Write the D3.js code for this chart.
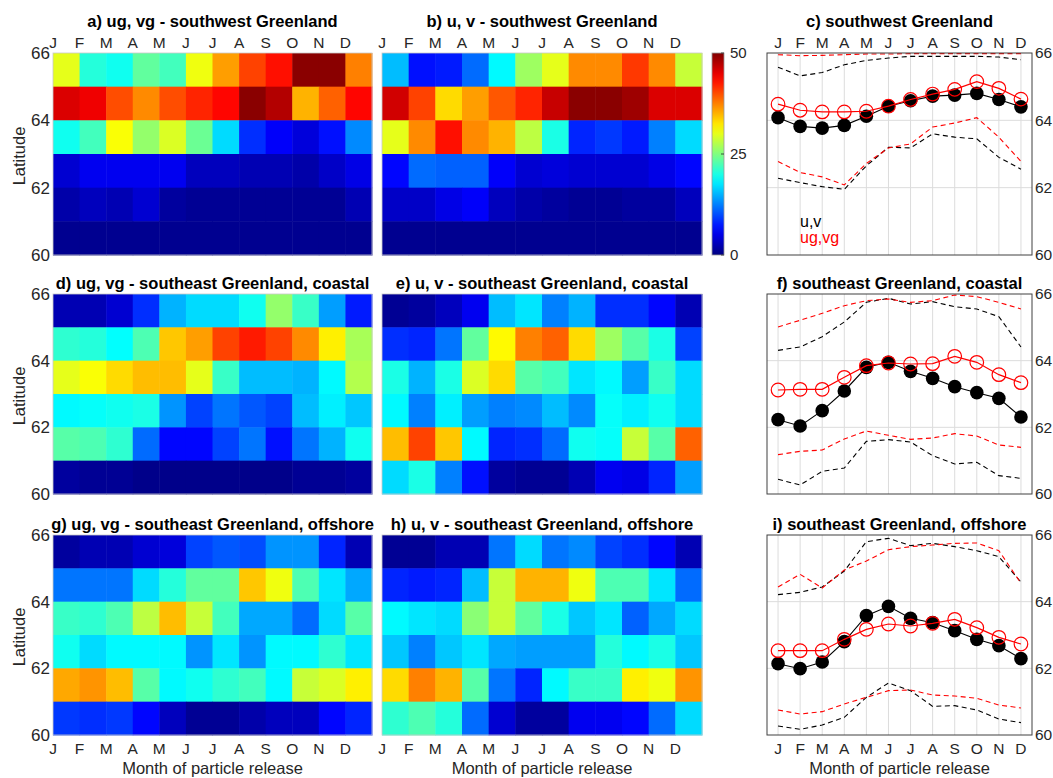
<!DOCTYPE html>
<html>
<head>
<meta charset="utf-8">
<script src="https://cdn.jsdelivr.net/npm/d3@7"></script>
<style>
  body { margin: 0; background: #fff; }
  text { font-family: "Liberation Sans", Arial, sans-serif; }
</style>
</head>
<body>
<svg id="fig" width="1053" height="778"></svg>
<script>
// month labels and latitude bins (rows listed north to south: lower edge of each 1-degree bin)
var months = ["J", "F", "M", "A", "M", "J", "J", "A", "S", "O", "N", "D"];
var latBins = [65, 64, 63, 62, 61, 60];
var latTicks = [60, 62, 64, 66];
var cbTicks = [0, 25, 50];

// heatmap values (percent), one row per latitude bin, north to south
var swGeo = [
  [30, 20.5, 19.5, 23.5, 22, 30.5, 36, 40.5, 43, 49.5, 49.5, 37.5],
  [45.5, 44.5, 40, 37, 40, 42, 43.5, 49.5, 47.5, 35, 39, 43.5],
  [19.5, 22, 31, 26, 29.5, 24, 17, 8.5, 6, 4.5, 7, 13],
  [4, 5.5, 5.5, 5.5, 5.5, 3, 3, 2.5, 2.5, 2, 3.5, 5],
  [2, 3, 2.5, 4, 1.5, 1, 1, 1, 1, 1, 1, 2.5],
  [0.8, 0.8, 0.8, 0.8, 0.8, 0.8, 0.8, 0.8, 0.8, 0.8, 0.8, 0.8]
];
var swFull = [
  [15.5, 7, 7.5, 11.5, 18.5, 26.5, 30, 37, 37, 41, 37, 28.5],
  [46, 40.5, 33, 36, 39.5, 42, 46.5, 49.5, 49.5, 48.5, 45.5, 45.5],
  [30, 37, 43, 37, 35, 28, 20, 8, 9, 7.5, 12.5, 17],
  [6.5, 11.5, 11, 11, 6, 4, 4.5, 4, 4, 4, 5, 6.5],
  [3.5, 3.5, 5, 6, 3, 2, 1.5, 1, 1, 1.5, 1.5, 3],
  [0.8, 0.8, 0.8, 0.8, 0.8, 0.8, 0.8, 0.8, 0.8, 0.8, 0.8, 0.8]
];
var seCoastGeo = [
  [2.5, 2.5, 4, 8.5, 15, 17, 17, 19.5, 26, 21.5, 14, 7.5],
  [21, 20.5, 18.8, 22.5, 34, 36, 40.5, 42.5, 40.5, 37, 32, 27],
  [30, 31, 33, 34.5, 34.5, 30, 21.5, 15.5, 15.5, 15, 18.5, 27.5],
  [18.5, 19, 19.5, 20, 13.5, 9.5, 12, 10.5, 9.5, 15.5, 18, 16],
  [23, 22.5, 21, 11.5, 6.5, 6.5, 9.5, 12, 7, 12, 15, 19.5],
  [1.5, 1, 1, 0.5, 0.5, 0.5, 0.5, 0.5, 0.5, 1, 1, 1.5]
];
var seCoastFull = [
  [1, 1.5, 3, 5.5, 15.5, 17.5, 12.5, 15, 8.5, 8.5, 6.5, 2.5],
  [8.5, 8, 12, 23.5, 31.5, 37.5, 39, 33, 26.5, 23, 20, 9.5],
  [20, 15, 20, 29.5, 33, 23, 22, 17.5, 18.5, 14, 21.5, 17],
  [18.5, 12.5, 18, 14, 12.5, 13, 15.5, 13, 19, 18, 19.5, 17],
  [34.5, 40.5, 34, 18.5, 8, 8.5, 11.5, 19.5, 19, 28.5, 23, 39],
  [17, 20, 12.5, 7, 1.5, 1, 1, 2.5, 5.5, 5, 8, 14]
];
var seOffGeo = [
  [1.5, 2.5, 2.5, 4, 4.5, 9.5, 10.5, 10, 13.5, 13.5, 8, 2.5],
  [12, 12, 12, 17, 20.5, 23.5, 23.5, 34, 30.5, 22.5, 17.5, 14.5],
  [21.5, 21, 22.5, 28, 34.5, 28.5, 22, 14.5, 14.5, 11.5, 17, 23],
  [19.5, 17, 18.5, 18.5, 18.5, 13.5, 17.5, 13.5, 18.5, 18.5, 21, 17.5],
  [35.5, 36.5, 34.5, 23, 18.5, 19.5, 21, 22, 18.5, 28.5, 29.5, 32],
  [9, 8.5, 9, 6.5, 3, 1, 1, 2, 3, 3, 6.5, 8]
];
var seOffFull = [
  [1, 1, 2.5, 2.5, 12, 17, 12, 13, 9.5, 8.5, 6.5, 2.5],
  [8, 7.5, 8, 15.5, 28.5, 35, 35, 30.5, 22.5, 22.5, 17.5, 11.5],
  [18.5, 17.5, 17, 25.5, 28.5, 23.5, 20, 16, 17.5, 11, 14.5, 17],
  [16, 12.5, 16, 17.5, 14.5, 14, 14, 14, 20.5, 18.5, 20, 16],
  [33, 37.5, 35, 23, 12, 8, 18.5, 21.5, 21.5, 32, 30.5, 36.5],
  [21, 22.5, 20.5, 11.5, 4, 1.5, 1.5, 5.5, 5.5, 6.5, 11.5, 17]
];

// median latitude and spread (dashed) per release month
var swUvMed = [64.08, 63.82, 63.77, 63.85, 64.12, 64.42, 64.58, 64.72, 64.75, 64.8, 64.62, 64.4];
var swUvHi  = [65.58, 65.32, 65.42, 65.65, 65.78, 65.85, 65.9, 65.9, 65.9, 65.9, 65.88, 65.8];
var swUvLo  = [62.28, 62.15, 62.03, 61.95, 62.65, 63.2, 63.18, 63.6, 63.5, 63.45, 62.9, 62.55];
var swGMed  = [64.48, 64.3, 64.25, 64.25, 64.27, 64.42, 64.62, 64.78, 64.92, 65.15, 64.95, 64.63];
var swGHi   = [65.95, 65.92, 65.93, 65.95, 65.97, 65.97, 65.98, 65.98, 65.98, 65.98, 65.98, 65.98];
var swGLo   = [62.78, 62.45, 62.32, 62.08, 62.72, 63.18, 63.3, 63.8, 63.92, 64.08, 63.5, 62.78];

var scUvMed = [62.23, 62.04, 62.5, 63.09, 63.8, 63.95, 63.68, 63.47, 63.22, 63.04, 62.87, 62.31];
var scUvHi  = [64.31, 64.41, 64.72, 65.16, 65.75, 65.87, 65.7, 65.77, 65.62, 65.55, 65.32, 64.41];
var scUvLo  = [60.44, 60.27, 60.68, 60.78, 61.58, 61.63, 61.56, 61.15, 60.9, 60.95, 60.55, 60.47];
var scGMed  = [63.12, 63.14, 63.14, 63.5, 63.85, 63.93, 63.9, 63.91, 64.13, 63.95, 63.58, 63.34];
var scGHi   = [65.01, 65.21, 65.42, 65.65, 65.8, 65.85, 65.75, 65.8, 65.97, 65.92, 65.75, 65.55];
var scGLo   = [61.18, 61.28, 61.32, 61.65, 61.89, 61.76, 61.64, 61.68, 61.81, 61.74, 61.47, 61.4];

var soUvMed = [62.14, 61.99, 62.19, 62.8, 63.58, 63.86, 63.5, 63.37, 63.13, 62.87, 62.68, 62.29];
var soUvHi  = [64.21, 64.28, 64.44, 64.92, 65.8, 65.9, 65.68, 65.75, 65.65, 65.53, 65.35, 64.59];
var soUvLo  = [60.27, 60.17, 60.3, 60.53, 61.13, 61.56, 61.33, 60.86, 60.88, 60.75, 60.48, 60.37];
var soGMed  = [62.53, 62.53, 62.53, 62.87, 63.17, 63.33, 63.27, 63.35, 63.47, 63.22, 62.93, 62.73];
var soGHi   = [64.44, 64.82, 64.41, 64.95, 65.22, 65.56, 65.65, 65.7, 65.75, 65.76, 65.53, 64.55];
var soGLo   = [60.75, 60.63, 60.7, 60.93, 61.13, 61.33, 61.35, 61.2, 61.17, 61.1, 60.9, 60.81];

var svg = d3.select("#fig");
var ink = "#262626";

// MATLAB-style jet
var jet = d3.scaleLinear()
  .domain([0, 6.25, 18.75, 31.25, 43.75, 50])
  .range(["#000080", "#0000ff", "#00ffff", "#ffff00", "#ff0000", "#800000"])
  .clamp(true);

var rows = [[53, 255], [294, 494], [535, 735]];
var heatCols = [[53, 372], [382, 702]];
var lineCol = [767, 1032];

function title(x, y, s) {
  svg.append("text").attr("x", x).attr("y", y)
    .attr("text-anchor", "middle").attr("font-size", 16.5).attr("font-weight", "bold")
    .attr("fill", "#000").text(s);
}

function monthLabels(x, yb, xpos) {
  months.forEach(function(m, i) {
    svg.append("text").attr("x", x(xpos(i))).attr("y", yb)
      .attr("text-anchor", "middle").attr("font-size", 15.5).attr("fill", ink).text(m);
  });
}

function heatmap(ci, ri, data, opts) {
  var x = d3.scaleLinear().domain([1, 13]).range(heatCols[ci]);
  var y = d3.scaleLinear().domain([60, 66]).range([rows[ri][1], rows[ri][0]]);
  var g = svg.append("g");
  data.forEach(function(row, r) {
    row.forEach(function(v, m) {
      g.append("rect")
        .attr("x", x(m + 1)).attr("y", y(latBins[r] + 1))
        .attr("width", x(m + 2) - x(m + 1) + 0.5)
        .attr("height", y(latBins[r]) - y(latBins[r] + 1) + 0.5)
        .attr("fill", jet(v));
    });
  });
  g.append("rect").attr("x", x(1)).attr("y", y(66))
    .attr("width", x(13) - x(1)).attr("height", y(60) - y(66))
    .attr("fill", "none").attr("stroke", "#c8c8c8").attr("stroke-width", 0.8);
  if (opts.yticks) {
    latTicks.forEach(function(t) {
      svg.append("text").attr("x", x(1) - 3).attr("y", y(t)).attr("dy", "0.35em")
        .attr("text-anchor", "end").attr("font-size", 17).attr("fill", ink).text(t);
    });
    svg.append("text")
      .attr("transform", "translate(25," + (y(63) + 2) + ") rotate(-90)")
      .attr("text-anchor", "middle").attr("font-size", 16.5).attr("fill", ink).text("Latitude");
  }
  if (opts.top) monthLabels(x, rows[ri][0] - 5, function(i) { return i + 1; });
  if (opts.bottom) {
    monthLabels(x, rows[ri][1] + 19, function(i) { return i + 1; });
    svg.append("text").attr("x", (x(1) + x(13)) / 2).attr("y", rows[ri][1] + 39)
      .attr("text-anchor", "middle").attr("font-size", 16.5).attr("fill", ink)
      .text("Month of particle release");
  }
  var tb = opts.top ? 27 : rows[ri][0] - 5;
  title((x(1) + x(13)) / 2, tb, opts.title);
}

function linePanel(ri, s, opts) {
  var x = d3.scaleLinear().domain([0.5, 12.5]).range(lineCol);
  var y = d3.scaleLinear().domain([60, 66]).range([rows[ri][1], rows[ri][0]]);
  var g = svg.append("g");
  var idx = d3.range(12);
  // grid
  idx.forEach(function(i) {
    g.append("line").attr("x1", x(i + 1)).attr("x2", x(i + 1))
      .attr("y1", y(60)).attr("y2", y(66)).attr("stroke", "#dcdcdc").attr("stroke-width", 1);
  });
  [62, 64].forEach(function(t) {
    g.append("line").attr("x1", x(0.5)).attr("x2", x(12.5))
      .attr("y1", y(t)).attr("y2", y(t)).attr("stroke", "#dcdcdc").attr("stroke-width", 1);
  });
  var line = d3.line().x(function(d, i) { return x(i + 1); }).y(function(d) { return y(d); });
  function dashed(arr, col) {
    g.append("path").attr("d", line(arr)).attr("fill", "none")
      .attr("stroke", col).attr("stroke-width", 1.1).attr("stroke-dasharray", "5,3.5");
  }
  dashed(s.uvHi, "#000"); dashed(s.uvLo, "#000");
  dashed(s.gHi, "#ff0000"); dashed(s.gLo, "#ff0000");
  g.append("path").attr("d", line(s.uvMed)).attr("fill", "none").attr("stroke", "#000").attr("stroke-width", 1.1);
  g.selectAll(null).data(s.uvMed).enter().append("circle")
    .attr("cx", function(d, i) { return x(i + 1); }).attr("cy", function(d) { return y(d); })
    .attr("r", 6.8).attr("fill", "#000");
  g.append("path").attr("d", line(s.gMed)).attr("fill", "none").attr("stroke", "#ff0000").attr("stroke-width", 1.2);
  g.selectAll(null).data(s.gMed).enter().append("circle")
    .attr("cx", function(d, i) { return x(i + 1); }).attr("cy", function(d) { return y(d); })
    .attr("r", 6.8).attr("fill", "none").attr("stroke", "#ff0000").attr("stroke-width", 1.2);
  // box
  g.append("rect").attr("x", x(0.5)).attr("y", y(66))
    .attr("width", x(12.5) - x(0.5)).attr("height", y(60) - y(66))
    .attr("fill", "none").attr("stroke", "#404040").attr("stroke-width", 1);
  latTicks.forEach(function(t) {
    svg.append("text").attr("x", x(12.5) + 3).attr("y", y(t)).attr("dy", "0.35em")
      .attr("text-anchor", "start").attr("font-size", 15.5).attr("fill", ink).text(t);
  });
  if (opts.top) monthLabels(x, rows[ri][0] - 5, function(i) { return i + 1; });
  if (opts.bottom) {
    monthLabels(x, rows[ri][1] + 19, function(i) { return i + 1; });
    svg.append("text").attr("x", (x(0.5) + x(12.5)) / 2).attr("y", rows[ri][1] + 39)
      .attr("text-anchor", "middle").attr("font-size", 16.5).attr("fill", ink)
      .text("Month of particle release");
  }
  if (opts.legend) {
    svg.append("text").attr("x", 800).attr("y", 227).attr("font-size", 16).attr("fill", "#000").text("u,v");
    svg.append("text").attr("x", 800).attr("y", 243).attr("font-size", 16).attr("fill", "#ff0000").text("ug,vg");
  }
  var tb = opts.top ? 27 : rows[ri][0] - 5;
  title((x(0.5) + x(12.5)) / 2, tb, opts.title);
}

heatmap(0, 0, swGeo, { yticks: true, top: true, title: "a) ug, vg - southwest Greenland" });
heatmap(1, 0, swFull, { top: true, title: "b) u, v - southwest Greenland" });
heatmap(0, 1, seCoastGeo, { yticks: true, title: "d) ug, vg - southeast Greenland, coastal" });
heatmap(1, 1, seCoastFull, { title: "e) u, v - southeast Greenland, coastal" });
heatmap(0, 2, seOffGeo, { yticks: true, bottom: true, title: "g) ug, vg - southeast Greenland, offshore" });
heatmap(1, 2, seOffFull, { bottom: true, title: "h) u, v - southeast Greenland, offshore" });

linePanel(0, { uvMed: swUvMed, uvHi: swUvHi, uvLo: swUvLo, gMed: swGMed, gHi: swGHi, gLo: swGLo },
  { top: true, legend: true, title: "c) southwest Greenland" });
linePanel(1, { uvMed: scUvMed, uvHi: scUvHi, uvLo: scUvLo, gMed: scGMed, gHi: scGHi, gLo: scGLo },
  { title: "f) southeast Greenland, coastal" });
linePanel(2, { uvMed: soUvMed, uvHi: soUvHi, uvLo: soUvLo, gMed: soGMed, gHi: soGHi, gLo: soGLo },
  { bottom: true, title: "i) southeast Greenland, offshore" });

// colorbar
var cbY = d3.scaleLinear().domain([0, 50]).range([rows[0][1], rows[0][0]]);
var defs = svg.append("defs");
var grad = defs.append("linearGradient").attr("id", "jetgrad")
  .attr("x1", 0).attr("x2", 0).attr("y1", 1).attr("y2", 0);
d3.range(0, 51, 2.5).forEach(function(v) {
  grad.append("stop").attr("offset", v / 50).attr("stop-color", jet(v));
});
svg.append("rect").attr("x", 712).attr("y", cbY(50)).attr("width", 12)
  .attr("height", cbY(0) - cbY(50)).attr("fill", "url(#jetgrad)")
  .attr("stroke", "#999").attr("stroke-width", 0.8);
cbTicks.forEach(function(t) {
  svg.append("line").attr("x1", 721).attr("x2", 724).attr("y1", cbY(t)).attr("y2", cbY(t))
    .attr("stroke", ink).attr("stroke-width", 0.8);
  svg.append("text").attr("x", 730).attr("y", cbY(t)).attr("dy", "0.35em")
    .attr("font-size", 15).attr("fill", ink).text(t);
});
</script>
</body>
</html>
